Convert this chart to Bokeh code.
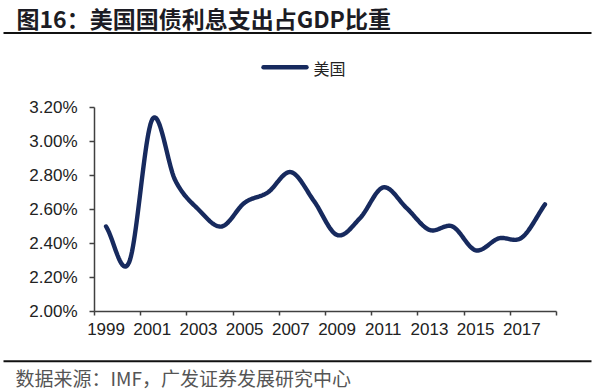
import numpy as np
from bokeh.plotting import figure
from bokeh.models import Range1d, FixedTicker, Label, LinearAxis
from bokeh.embed import file_html
from bokeh.resources import INLINE

# ---- data ----
years = list(range(1999, 2019))
us_interest_pct = [2.50, 2.29, 3.13, 2.77, 2.60, 2.50, 2.64, 2.70, 2.82, 2.65,
                   2.45, 2.55, 2.73, 2.61, 2.48, 2.50, 2.36, 2.43, 2.435, 2.63]
y_ticks = [2.0, 2.2, 2.4, 2.6, 2.8, 3.0, 3.2]
y_tick_labels = ["2.00%", "2.20%", "2.40%", "2.60%", "2.80%", "3.00%", "3.20%"]
x_label_years = [1999, 2001, 2003, 2005, 2007, 2009, 2011, 2013, 2015, 2017]
title_text = "图16：美国国债利息支出占GDP比重"
legend_text = "美国"
source_text = "数据来源：IMF，广发证券发展研究中心"

# ---- layout / style ----
W, H = 594, 391
FRAME_L, FRAME_R, FRAME_T, FRAME_B = 94, 556, 107, 311   # pixel box of the plot area
LINE_COLOR = "#172a5e"
AXIS_COLOR = "#404040"
RULE_COLOR = "#111111"
CJK = "Noto Sans CJK SC"
LAT = "Liberation Sans"

X0, X1 = years[0] - 0.5, years[-1] + 0.5
Y0, Y1 = y_ticks[0], y_ticks[-1]


def px2x(px):
    return X0 + (px - FRAME_L) / (FRAME_R - FRAME_L) * (X1 - X0)


def py2y(py):
    return Y0 + (FRAME_B - py) / (FRAME_B - FRAME_T) * (Y1 - Y0)


def smooth(xs, ys, n=24):
    """Catmull-Rom smoothing through the data points (like a smoothed line)."""
    xs = np.asarray(xs, float)
    ys = np.asarray(ys, float)
    px = np.concatenate([[2 * xs[0] - xs[1]], xs, [2 * xs[-1] - xs[-2]]])
    py = np.concatenate([[2 * ys[0] - ys[1]], ys, [2 * ys[-1] - ys[-2]]])
    ox, oy = [], []
    for i in range(1, len(px) - 2):
        t = np.linspace(0, 1, n, endpoint=False)
        for arr, out in ((px, ox), (py, oy)):
            p0, p1, p2, p3 = arr[i - 1], arr[i], arr[i + 1], arr[i + 2]
            out.extend(0.5 * ((2 * p1) + (-p0 + p2) * t
                              + (2 * p0 - 5 * p1 + 4 * p2 - p3) * t ** 2
                              + (-p0 + 3 * p1 - 3 * p2 + p3) * t ** 3))
    ox.append(xs[-1])
    oy.append(ys[-1])
    return ox, oy


p = figure(width=W, height=H, output_backend="svg", toolbar_location=None,
           x_range=Range1d(px2x(0), px2x(W)), y_range=Range1d(py2y(H), py2y(0)),
           x_axis_type=None, y_axis_type=None,
           min_border=0, min_border_left=0, min_border_right=0,
           min_border_top=0, min_border_bottom=0)
p.outline_line_color = None
p.grid.visible = False
p.background_fill_color = "white"
p.border_fill_color = "white"

# ---- series ----
sx, sy = smooth(years, us_interest_pct)
p.line(sx, sy, line_color=LINE_COLOR, line_width=4.4, line_cap="round", line_join="round")

# ---- axes (fixed at the plot-area edges) ----
xa = LinearAxis(fixed_location=Y0, bounds=(X0, X1))
xa.ticker = FixedTicker(ticks=x_label_years,
                        minor_ticks=[y - 0.5 for y in x_label_years] + [X1])
xa.major_label_overrides = {y: str(y) for y in x_label_years}
xa.major_tick_out = 0
xa.major_tick_in = 0
xa.minor_tick_out = 4
xa.minor_tick_in = 0
xa.minor_tick_line_color = AXIS_COLOR
xa.minor_tick_line_width = 1.5
xa.axis_line_color = AXIS_COLOR
xa.axis_line_width = 1.5
xa.major_label_text_font = LAT
xa.major_label_text_font_size = "17px"
xa.major_label_text_color = "#222222"
xa.major_label_standoff = 7
p.add_layout(xa, "below")

ya = LinearAxis(fixed_location=X0, bounds=(Y0, Y1))
ya.ticker = FixedTicker(ticks=y_ticks, minor_ticks=[])
ya.major_label_overrides = dict(zip(y_ticks, y_tick_labels))
ya.major_tick_out = 5
ya.major_tick_in = 0
ya.major_tick_line_color = AXIS_COLOR
ya.major_tick_line_width = 1.5
ya.axis_line_color = AXIS_COLOR
ya.axis_line_width = 1.5
ya.major_label_text_font = LAT
ya.major_label_text_font_size = "17px"
ya.major_label_text_color = "#222222"
ya.major_label_standoff = 12
p.add_layout(ya, "left")

# ---- header: title, rule, legend ----
p.add_layout(Label(x=px2x(16), y=py2y(17), text=title_text, text_font=CJK,
                   text_font_size="23px", text_font_style="bold", text_color="#1c1c24",
                   text_baseline="middle", text_align="left"))
p.line([px2x(3), px2x(591)], [py2y(32.5)] * 2, line_color=RULE_COLOR, line_width=2)
p.line([px2x(263), px2x(306)], [py2y(66.7)] * 2, line_color=LINE_COLOR,
       line_width=4.4, line_cap="round")
p.add_layout(Label(x=px2x(313), y=py2y(67), text=legend_text, text_font=CJK,
                   text_font_size="16px", text_color="#222222",
                   text_baseline="middle", text_align="left"))

# ---- footer: rule and source ----
p.line([px2x(3), px2x(591)], [py2y(360.7)] * 2, line_color=RULE_COLOR, line_width=2)
p.add_layout(Label(x=px2x(15), y=py2y(377), text=source_text, text_font=CJK,
                   text_font_size="19px", text_color="#555555",
                   text_baseline="middle", text_align="left"))

open("out.html", "w").write(file_html(p, INLINE))
